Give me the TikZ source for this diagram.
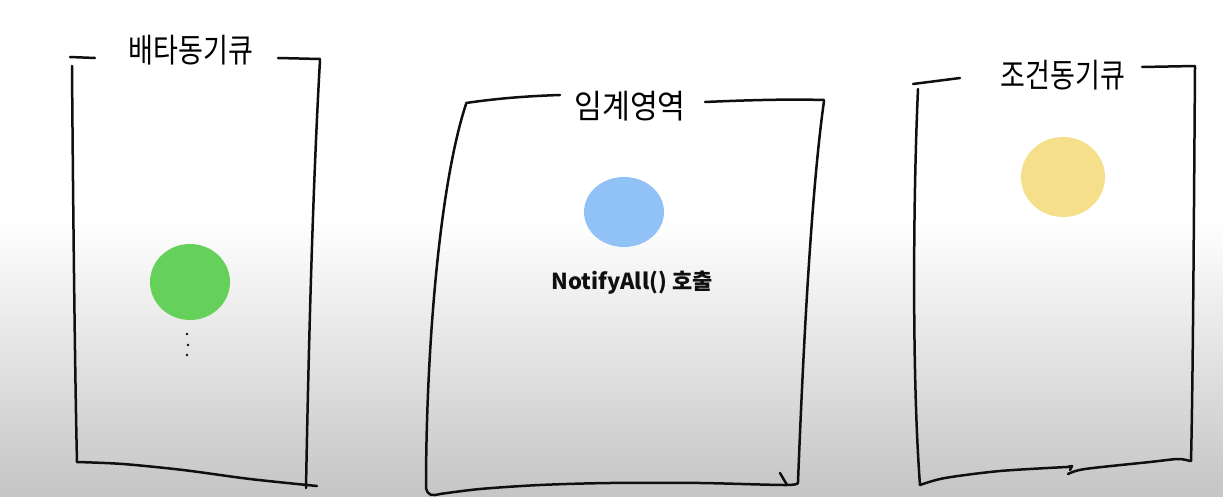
\documentclass[tikz,border=0pt]{standalone}
\usepackage{fontspec}
\newfontfamily\kr{Noto Sans CJK KR}
\usetikzlibrary{shapes.geometric}
\definecolor{grn}{RGB}{102,209,90}
\definecolor{blu}{RGB}{144,194,247}
\definecolor{ylw}{RGB}{245,223,138}
\definecolor{bggray}{RGB}{197,197,197}
\definecolor{ink}{RGB}{15,15,15}
\begin{document}
\begin{tikzpicture}[x=1pt,y=-1pt,
  pen/.style={line width=2.5pt, line cap=round, line join=round, draw=ink},
  lbl/.style={font=\kr\fontsize{33}{33}\selectfont, inner sep=0pt, xscale=0.82, transform shape},
  blob/.style={ellipse, inner sep=0pt},
  dotmark/.style={circle, fill=ink, inner sep=0pt, minimum size=2.6pt}]
\useasboundingbox (0,0) rectangle (1223,497);
\fill[white] (0,0) rectangle (1223,222);
\shade[top color=white, bottom color=bggray] (0,220) rectangle (1223,497);

% box 1
\draw[pen] (70,57) -- (95,58);
\draw[pen] (278,58) -- (320,59);
\draw[pen] (72,66) .. controls (73,200) and (75,380) .. (77,462);
\draw[pen] plot[smooth] coordinates {(77,462) (123,464) (183,470) (250,479) (317,486)};
\draw[pen] (320,60) .. controls (312,200) and (308,380) .. (306,488);
\node[lbl] (t1) at (191,50) {배타동기큐};

% box 2
\draw[pen] (466,103) .. controls (500,98) and (530,96) .. (560,95);
\draw[pen] (705,102) .. controls (750,100) and (790,99) .. (824,100);
\draw[pen] (466,104) .. controls (438,190) and (426,360) .. (426,488) .. controls (428,496) and (432,496) .. (440,494);
\draw[pen] plot[smooth] coordinates {(440,494) (480,489) (540,485) (610,483) (700,483) (787,485) (798,482)};
\draw[pen] (824,101) .. controls (810,200) and (802,380) .. (798,482);
\draw[pen] (780,473) -- (787,485);
\node[lbl, xscale=1.12] (t2) at (630,106) {임계영역};

% box 3
\draw[pen] (913,84) -- (960,78);
\draw[pen] (1142,67) -- (1195,66);
\draw[pen] (918,89) .. controls (913,200) and (912,380) .. (920,485);
\draw[pen] plot[smooth] coordinates {(920,485) (945,478) (1000,471) (1067,467)};
\draw[pen] (1067,467) -- (1072,466) -- (1070,470);
\draw[pen] plot[smooth] coordinates {(1068,474) (1085,469) (1150,462) (1178,459) (1190,461)};
\draw[pen] (1195,67) .. controls (1194,200) and (1193,380) .. (1191,461);
\node[lbl] (t3) at (1063,75) {조건동기큐};

% blobs
\node[blob, fill=grn, minimum width=80pt, minimum height=76pt] (g) at (190,282) {};
\node[blob, fill=blu, minimum width=80pt, minimum height=70pt] (b) at (624,212) {};
\node[blob, fill=ylw, minimum width=84pt, minimum height=80pt] (y) at (1063,177) {};

\node[dotmark] (d1) at (187,334) {};
\node[dotmark] (d2) at (188,345) {};
\node[dotmark] (d3) at (187,355) {};

\node[font=\kr\bfseries\fontsize{22}{22}\selectfont, inner sep=0pt, text=ink] (n) at (632,283) {NotifyAll() 호출};
\end{tikzpicture}
\end{document}
